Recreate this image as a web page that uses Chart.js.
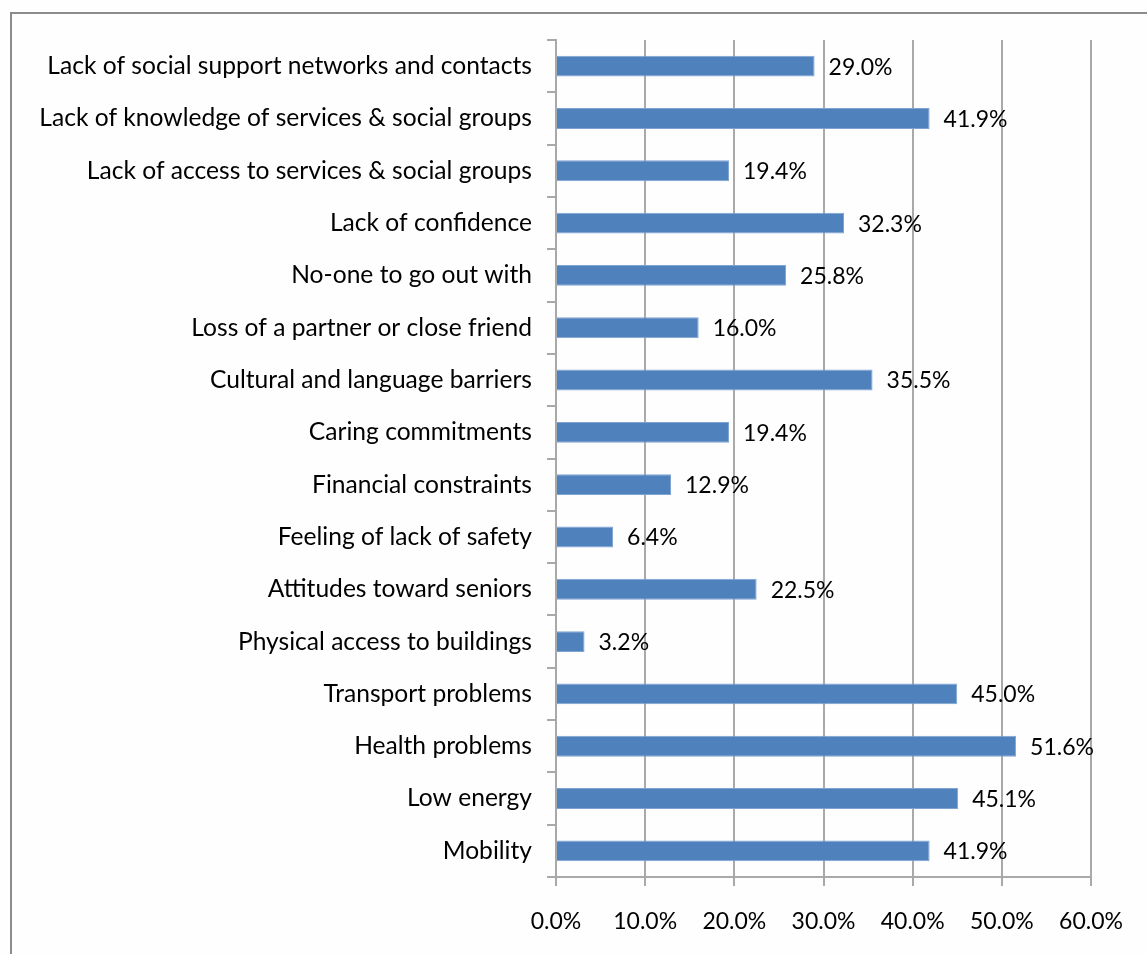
<!DOCTYPE html>
<html>
<head>
<meta charset="utf-8">
<title>Barriers to social participation</title>
<script src="https://cdn.jsdelivr.net/npm/chart.js@4/dist/chart.umd.min.js"></script>
<style>
    html, body {
        margin: 0;
        padding: 0;
        background: #fefefe;
        overflow: hidden;
    }
    #wrap {
        position: relative;
        width: 1147px;
        height: 954px;
    }
    /* frame around the chart, runs off the right and bottom edge */
    #frame {
        position: absolute;
        left: 10px;
        top: 12px;
        width: 1200px;
        height: 1000px;
        border: 2px solid #8c8c8c;
    }
    #myChart {
        position: absolute;
        left: 0;
        top: 0;
    }
</style>
</head>
<body>
<div id="wrap">
    <div id="frame"></div>
    <canvas id="myChart" width="1147" height="954"></canvas>
</div>

<script>
// Categories, top to bottom
const categories = [
    'Lack of social support networks and contacts',
    'Lack of knowledge of services & social groups',
    'Lack of access to services & social groups',
    'Lack of confidence',
    'No-one to go out with',
    'Loss of a partner or close friend',
    'Cultural and language barriers',
    'Caring commitments',
    'Financial constraints',
    'Feeling of lack of safety',
    'Attitudes toward seniors',
    'Physical access to buildings',
    'Transport problems',
    'Health problems',
    'Low energy',
    'Mobility'
];

// Percent of respondents
const percentages = [29.0, 41.9, 19.4, 32.3, 25.8, 16.0, 35.5, 19.4, 12.9, 6.4, 22.5, 3.2, 45.0, 51.6, 45.1, 41.9];

// Axis ticks
const xTicks = [0, 10, 20, 30, 40, 50, 60];

// category names are a bit larger than the numbers
const labelFont = { family: 'Lato', size: 24.6 };
const numberFont = { family: 'Lato', size: 23 };

// Value label next to each bar
const valueLabels = {
    id: 'valueLabels',
    afterDatasetsDraw(chart) {
        const ctx = chart.ctx;
        const meta = chart.getDatasetMeta(0);
        ctx.save();
        ctx.font = numberFont.size + 'px ' + numberFont.family;
        ctx.fillStyle = '#000';
        ctx.textAlign = 'left';
        ctx.textBaseline = 'middle';
        meta.data.forEach((bar, i) => {
            ctx.fillText(percentages[i].toFixed(1) + '%', bar.x + 14, bar.y + 1);
        });
        ctx.restore();
    }
};

const ctx = document.getElementById('myChart');

new Chart(ctx, {
    type: 'bar',
    data: {
        labels: categories,
        datasets: [{
            label: 'Barriers',
            data: percentages,
            backgroundColor: '#4f81bd',
            borderColor: '#7fa4d2',
            borderWidth: 1,
            borderSkipped: 'left',
            barPercentage: 0.4,
            categoryPercentage: 1
        }]
    },
    options: {
        indexAxis: 'y',
        responsive: false,
        animation: false,
        layout: {
            padding: { left: 10, right: 56, top: 40, bottom: 0 }
        },
        plugins: {
            legend: { display: false },
            tooltip: { enabled: false }
        },
        scales: {
            x: {
                min: 0,
                max: 60,
                afterBuildTicks(scale) {
                    scale.ticks = xTicks.map(v => ({ value: v }));
                },
                afterFit(scale) {
                    scale.height = 77;
                },
                grid: {
                    color: '#a9a9a9',
                    lineWidth: 2,
                    drawTicks: true,
                    tickLength: 9
                },
                border: { display: true, color: '#a9a9a9', width: 2 },
                ticks: {
                    color: '#000',
                    font: numberFont,
                    padding: 22,
                    callback: v => v.toFixed(1) + '%'
                }
            },
            y: {
                afterFit(scale) {
                    scale.width = 546;
                },
                grid: {
                    drawOnChartArea: false,
                    drawTicks: true,
                    tickLength: 9,
                    offset: true,
                    color: '#a9a9a9',
                    lineWidth: 2
                },
                border: { display: true, color: '#a9a9a9', width: 2 },
                ticks: {
                    color: '#000',
                    font: labelFont,
                    padding: 15
                }
            }
        }
    },
    plugins: [valueLabels]
});
</script>
</body>
</html>
